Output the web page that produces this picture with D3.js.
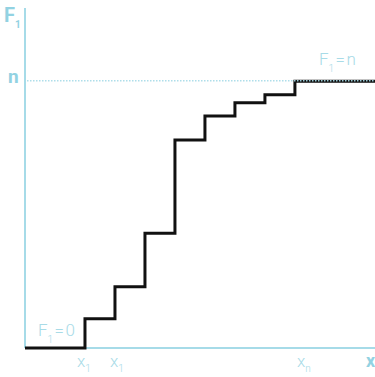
<!DOCTYPE html>
<html>
<head>
<meta charset="utf-8">
<script src="https://cdn.jsdelivr.net/npm/d3@7"></script>
<style>
  body { margin: 0; background: #fff; }
  text { font-family: Roboto, "Open Sans", sans-serif; }
</style>
</head>
<body>
<svg id="cdf"></svg>
<script>
// step positions (x units) and cumulative level (percent of n)
var stepX = [0, 2, 3, 4, 5, 6, 7, 8, 9]
var stepY = [0, 11, 23, 43, 78, 87, 92, 95, 100]
var xMax = 11.67
var yMax = 127.5
var nLevel = 100

// tick labels below the x axis
var xTickAt = [2, 3, 9]
var xTickSub = ["1", "1", "n"]
var xTickDx = [-8, -5, 2]

var dimensions = {
    width: 375,
    height: 377,
    margin: { top: 8, bottom: 29, right: 0, left: 25 }
}

var axisColor = "#a6dbe8"
var textColor = "#a8dbe7"
var boldColor = "#92d2e2"

var svg = d3.select("#cdf")
    .attr("width", dimensions.width)
    .attr("height", dimensions.height)

var xScale = d3.scaleLinear()
    .domain([0, xMax])
    .range([dimensions.margin.left, dimensions.width - dimensions.margin.right])

var yScale = d3.scaleLinear()
    .domain([0, yMax])
    .range([dimensions.height - dimensions.margin.bottom, dimensions.margin.top])

// axes
svg.append("line")
    .attr("x1", xScale(0)).attr("x2", xScale(0))
    .attr("y1", yScale(0)).attr("y2", yScale(yMax))
    .attr("stroke", axisColor).attr("stroke-width", 2)

svg.append("line")
    .attr("x1", xScale(0)).attr("x2", xScale(xMax))
    .attr("y1", yScale(0)).attr("y2", yScale(0))
    .attr("stroke", axisColor).attr("stroke-width", 2)

// step function
var points = stepX.map((d, i) => [d, stepY[i]])
points.push([xMax, stepY[stepY.length - 1]])

var line = d3.line()
    .x(d => xScale(d[0]))
    .y(d => yScale(d[1]))
    .curve(d3.curveStepAfter)

svg.append("path")
    .datum(points)
    .attr("d", line)
    .attr("fill", "none")
    .attr("stroke", "#111")
    .attr("stroke-width", 3)
    .attr("stroke-linejoin", "miter")

// dotted n line
svg.append("line")
    .attr("x1", xScale(0) + 2).attr("x2", xScale(xMax))
    .attr("y1", yScale(nLevel) - 0.5).attr("y2", yScale(nLevel) - 0.5)
    .attr("stroke", axisColor).attr("stroke-width", 1.5)
    .attr("stroke-dasharray", "1.5,1.5")
    .attr("opacity", 0.9)

// axis names
var fLabel = svg.append("text")
    .attr("x", 4).attr("y", 22)
    .attr("fill", boldColor)
    .style("font-size", "20px").style("font-weight", "bold")
fLabel.append("tspan").text("F")
fLabel.append("tspan").attr("dy", 6).style("font-size", "10px").text("1")

svg.append("text")
    .attr("x", 8).attr("y", yScale(nLevel) + 2)
    .attr("fill", boldColor)
    .style("font-size", "19px").style("font-weight", "bold")
    .text("n")

svg.append("text")
    .attr("x", xScale(xMax) - 9).attr("y", 367)
    .attr("fill", boldColor)
    .style("font-size", "18px").style("font-weight", "bold")
    .text("x")

// x tick labels
xTickAt.forEach(function (d, i) {
    var t = svg.append("text")
        .attr("x", xScale(d) + xTickDx[i]).attr("y", 367)
        .attr("fill", textColor)
        .style("font-size", "17px").style("font-weight", 300)
    t.append("tspan").text("x")
    t.append("tspan").attr("dy", 5).style("font-size", "10px").text(xTickSub[i])
})

// annotations
function annot(x, y, rhs) {
    var t = svg.append("text")
        .attr("x", x).attr("y", y)
        .attr("fill", textColor)
        .style("font-size", "17px").style("font-weight", 300)
    t.append("tspan").text("F")
    t.append("tspan").attr("dy", 7).style("font-size", "10px").text("1")
    t.append("tspan").attr("dy", -7).attr("dx", 1.5).text("=")
    t.append("tspan").attr("dx", 1.5).text(rhs)
}
annot(38, 336, "0")
annot(319, 65, "n")
</script>
</body>
</html>
